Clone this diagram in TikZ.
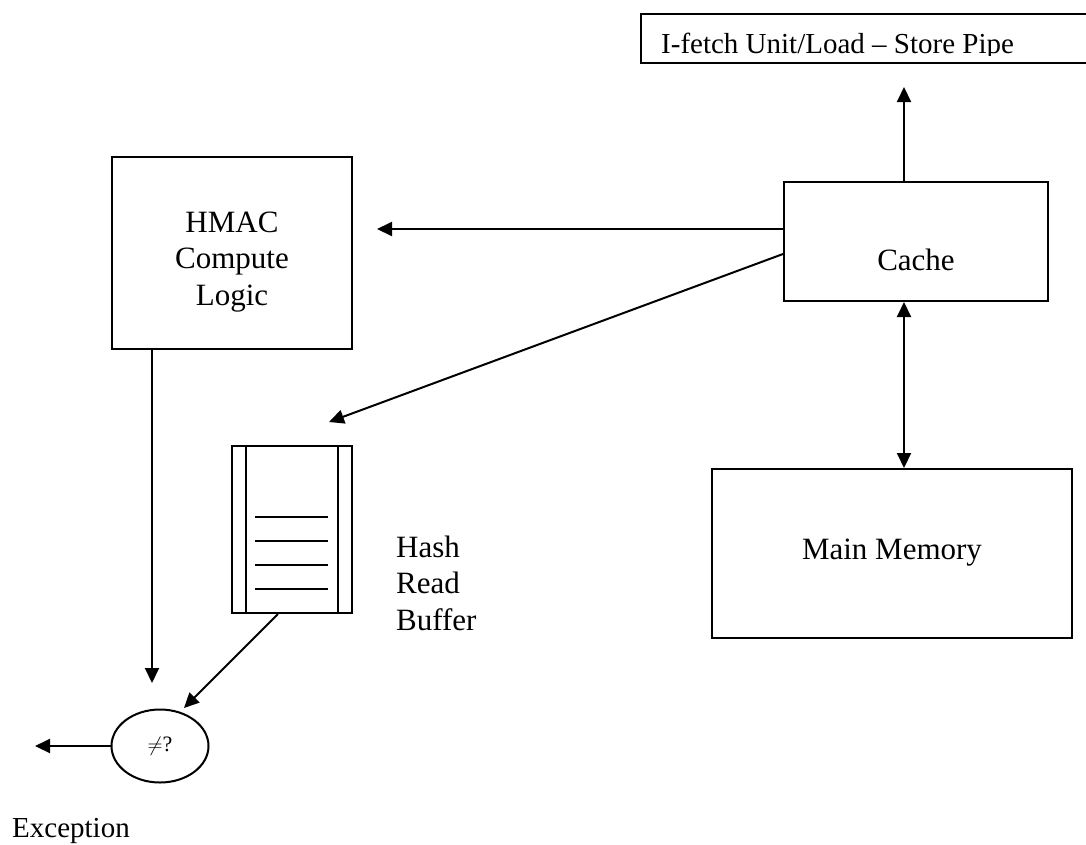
\documentclass[tikz,border=0pt]{standalone}
\usepackage{fontspec}
\setmainfont{Liberation Serif}
\usetikzlibrary{arrows.meta,shapes}

\begin{document}
\begin{tikzpicture}[x=1pt,y=-1pt,
  box/.style={draw,line width=2pt,rectangle,inner sep=0pt},
  txt/.style={inner sep=0pt,font=\fontsize{31}{36.5}\selectfont},
  smalltxt/.style={inner sep=0pt,font=\fontsize{29}{34}\selectfont},
  arr/.style={line width=2pt,-{Triangle[length=15pt,width=14pt]}},
  dblarr/.style={line width=2pt,{Triangle[length=15pt,width=14pt]}-{Triangle[length=15pt,width=14pt]}}]
\clip (0,0) rectangle (1086,844);
\node[box,minimum width=480pt,minimum height=49pt,anchor=north west](pipe) at (640,13) {};
\begin{scope}
\clip (640,13) rectangle (1086,55);
\node[smalltxt,anchor=base west](pipetext) at (661,53) {I-fetch Unit/Load -- Store Pipe};
\end{scope}
\node[box,minimum width=240pt,minimum height=192pt](hmac) at (232,253) {};
\node[txt,align=center](hmactext) at (232,261.6) {HMAC\\Compute\\Logic};
\node[box,minimum width=264pt,minimum height=119pt](cache) at (916,241.5) {};
\node[txt](cachetext) at (916,259.4) {Cache};
\node[box,minimum width=360pt,minimum height=169pt](mem) at (892,553.5) {};
\node[txt](memtext) at (892,552.7) {Main Memory};
\node[box,minimum width=120pt,minimum height=167pt](buffer) at (292,529.5) {};
\draw[line width=2pt] ([xshift=15pt]buffer.north west) -- ([xshift=15pt]buffer.south west);
\draw[line width=2pt] ([xshift=-15pt]buffer.north east) -- ([xshift=-15pt]buffer.south east);
\foreach \y in {517,541,565,589}
  \draw[line width=2pt] (255,\y) -- (328,\y);
\node[txt,align=left,anchor=west](buftext) at (396,583) {Hash\\Read\\Buffer};
\node[draw,ellipse,line width=2pt,minimum width=97pt,minimum height=73pt,inner sep=0pt,
  font=\fontsize{22}{26}\selectfont](neq) at (160,746) {$\neq$?};
\node[smalltxt,anchor=base west](exc) at (12,837) {Exception};
% connectors
\coordinate (pipein) at (904,87);
\coordinate (hmacin) at (377,229);
\coordinate (bufin) at (329,422);
\coordinate (neqtop) at (152,683);
\coordinate (neqright) at (184,708);
\coordinate (excout) at (35,746);
\draw[arr] ([xshift=-12pt]cache.north) -- (pipein);
\draw[arr] ([yshift=12.5pt]cache.west) -- (hmacin);
\draw[arr] ([yshift=-12.5pt]cache.west) -- (bufin);
\draw[dblarr] ([xshift=-12pt]cache.south) -- ([xshift=12pt]mem.north);
\draw[arr] ([xshift=-80pt]hmac.south) -- (neqtop);
\draw[arr] ([xshift=-14pt]buffer.south) -- (neqright);
\draw[arr] (neq.west) -- (excout);
\end{tikzpicture}
\end{document}
